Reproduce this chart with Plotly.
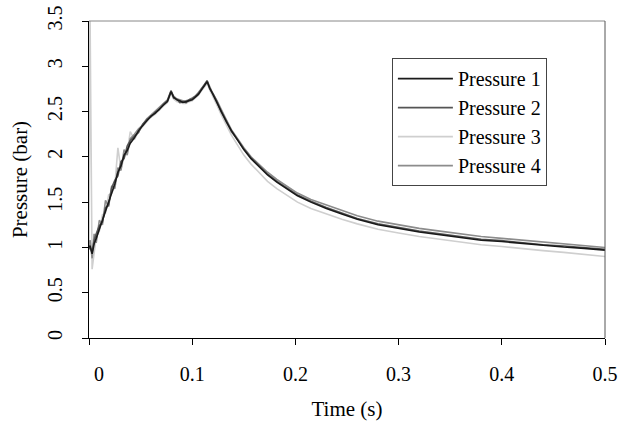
import plotly.graph_objects as go

# time axis (s)
time_s = [0, 0.001, 0.003, 0.005, 0.007, 0.01, 0.013, 0.016, 0.019, 0.022,
          0.025, 0.028, 0.031, 0.034, 0.037, 0.04, 0.044, 0.048, 0.052, 0.056,
          0.06, 0.064, 0.068, 0.072, 0.076, 0.0795, 0.082, 0.085, 0.088, 0.091,
          0.094, 0.097, 0.1, 0.103, 0.106, 0.109, 0.112, 0.1145, 0.117, 0.12,
          0.124, 0.128, 0.133, 0.138, 0.144, 0.15, 0.157, 0.165, 0.173, 0.182,
          0.192, 0.202, 0.215, 0.23, 0.245, 0.26, 0.28, 0.3, 0.32, 0.34,
          0.36, 0.38, 0.4, 0.42, 0.44, 0.46, 0.48, 0.5]

x_ticks = [0, 0.1, 0.2, 0.3, 0.4, 0.5]
x_labels = ["\u2002\u20020", "0.1", "0.2", "0.3", "0.4", "0.5"]

# pressures (bar)
pressure_1 = [1.00, 1.02, 0.93, 1.04, 1.10, 1.20, 1.30, 1.41, 1.50, 1.62,
              1.70, 1.83, 1.90, 2.02, 2.07, 2.15, 2.21, 2.29, 2.34, 2.40,
              2.45, 2.48, 2.53, 2.57, 2.61, 2.72, 2.66, 2.63, 2.62, 2.60,
              2.61, 2.62, 2.63, 2.66, 2.69, 2.74, 2.79, 2.83, 2.76, 2.69,
              2.60, 2.51, 2.39, 2.29, 2.18, 2.08, 1.98, 1.89, 1.80, 1.72,
              1.64, 1.57, 1.50, 1.43, 1.37, 1.31, 1.25, 1.21, 1.17, 1.14,
              1.11, 1.08, 1.065, 1.045, 1.02, 1.005, 0.99, 0.97]
pressure_2 = [0.98, 1.00, 0.95, 1.08, 1.15, 1.24, 1.28, 1.44, 1.47, 1.66,
              1.74, 1.79, 1.95, 1.98, 2.12, 2.18, 2.23, 2.27, 2.36, 2.41,
              2.44, 2.49, 2.52, 2.58, 2.62, 2.73, 2.65, 2.64, 2.60, 2.61,
              2.60, 2.63, 2.64, 2.67, 2.70, 2.75, 2.80, 2.84, 2.75, 2.70,
              2.61, 2.50, 2.40, 2.28, 2.19, 2.09, 1.99, 1.90, 1.81, 1.73,
              1.65, 1.58, 1.51, 1.44, 1.38, 1.32, 1.26, 1.22, 1.18, 1.15,
              1.12, 1.09, 1.075, 1.05, 1.03, 1.015, 1.00, 0.98]
pressure_3 = [1.05, 3.60, 0.76, 0.98, 1.12, 1.18, 1.36, 1.38, 1.58, 1.60,
              1.68, 2.10, 1.86, 2.00, 2.05, 2.28, 2.19, 2.28, 2.33, 2.39,
              2.44, 2.47, 2.52, 2.56, 2.60, 2.70, 2.64, 2.61, 2.60, 2.59,
              2.59, 2.61, 2.62, 2.65, 2.68, 2.73, 2.77, 2.81, 2.74, 2.66,
              2.57, 2.47, 2.35, 2.24, 2.13, 2.02, 1.92, 1.82, 1.73, 1.65,
              1.57, 1.50, 1.43, 1.37, 1.31, 1.26, 1.20, 1.16, 1.12, 1.09,
              1.06, 1.03, 1.01, 0.985, 0.965, 0.945, 0.925, 0.90]
pressure_4 = [1.02, 1.08, 0.88, 1.15, 1.05, 1.30, 1.25, 1.52, 1.45, 1.68,
              1.65, 1.88, 1.85, 2.08, 2.02, 2.20, 2.25, 2.31, 2.35, 2.42,
              2.46, 2.50, 2.54, 2.58, 2.63, 2.73, 2.67, 2.64, 2.63, 2.62,
              2.62, 2.63, 2.65, 2.67, 2.71, 2.75, 2.80, 2.84, 2.77, 2.70,
              2.62, 2.52, 2.41, 2.30, 2.20, 2.10, 2.00, 1.91, 1.83, 1.75,
              1.67, 1.60, 1.53, 1.47, 1.41, 1.35, 1.29, 1.25, 1.21, 1.18,
              1.15, 1.12, 1.10, 1.08, 1.06, 1.04, 1.02, 1.00]

series = [("Pressure 1", pressure_1, "#1a1a1a", 1),
          ("Pressure 2", pressure_2, "#555555", 2),
          ("Pressure 3", pressure_3, "#cfcfcf", 3),
          ("Pressure 4", pressure_4, "#8c8c8c", 4)]

font = "Times New Roman, Liberation Serif, serif"

fig = go.Figure()
# draw light ones first so the dark ones sit on top
for name, vals, col, rank in [series[2], series[3], series[1], series[0]]:
    fig.add_trace(go.Scatter(x=time_s, y=vals, name=name, mode="lines",
                             legendrank=rank,
                             line=dict(color=col, width=1.6)))

fig.update_layout(
    width=621, height=424,
    margin=dict(l=89, r=16, t=21, b=86),
    paper_bgcolor="white", plot_bgcolor="white",
    font=dict(family=font, size=20, color="black"),
    legend=dict(x=0.587, y=0.883, xanchor="left", yanchor="top",
                bordercolor="#444", borderwidth=1,
                bgcolor="white", font=dict(family=font, size=20, color="black"),
                itemwidth=55, tracegroupgap=0),
    xaxis=dict(range=[0, 0.5], tickvals=x_ticks, ticktext=x_labels,
               showline=True, linecolor="black", linewidth=1,
               ticks="outside", ticklen=6, tickcolor="black",
               tickfont=dict(family=font, size=20),
               showgrid=False, zeroline=False, ticklabelstandoff=12,
               ticklabeloverflow="allow", automargin=False,
               title=dict(text="Time (s)", standoff=17,
                          font=dict(family=font, size=21))),
    yaxis=dict(range=[0, 3.5], dtick=0.5, tickangle=-90,
               showline=True, linecolor="black", linewidth=1,
               ticks="outside", ticklen=6, tickcolor="black",
               tickfont=dict(family=font, size=20),
               showgrid=False, zeroline=False, ticklabelstandoff=12,
               ticklabeloverflow="allow", automargin=False,
               title=dict(text="Pressure (bar)", standoff=10,
                          font=dict(family=font, size=21))),
)

# top and right frame lines
fig.add_shape(type="line", xref="paper", yref="paper", x0=0, x1=1, y0=1, y1=1,
              line=dict(color="#888888", width=1))
fig.add_shape(type="line", xref="paper", yref="paper", x0=1, x1=1, y0=0, y1=1,
              line=dict(color="#555555", width=1))

# drop the page's default body margin so the figure fills the window
fig.write_html("out.html", config={"displayModeBar": False},
               post_script="document.body.style.margin='0';")
